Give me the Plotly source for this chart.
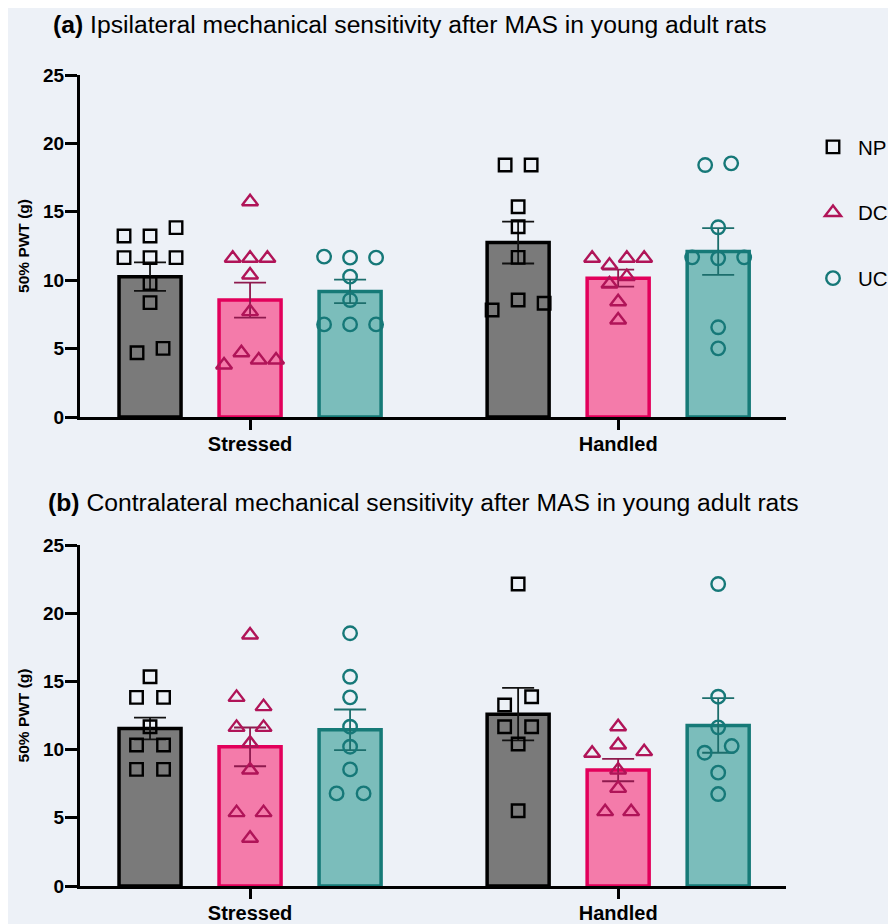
import plotly.graph_objects as go

# ---------------- data ----------------
groups = ["Stressed", "Handled"]
series = ["NP", "DC", "UC"]

# (a) Ipsilateral - individual values (data order = left-to-right within a row)
ipsi_np_stressed = [13.23, 13.23, 13.84, 11.65, 11.65, 11.65, 9.77, 8.36, 4.70, 5.02]
ipsi_dc_stressed = [15.74, 11.60, 11.60, 11.60, 10.38, 7.70, 3.80, 4.70, 4.17, 4.17]
ipsi_uc_stressed = [11.72, 11.65, 11.65, 10.26, 8.55, 6.77, 6.77, 6.77]
ipsi_np_handled = [18.42, 18.42, 15.37, 13.91, 11.67, 7.82, 8.55, 8.31]
ipsi_dc_handled = [11.60, 11.10, 11.60, 11.60, 9.72, 10.26, 8.43, 7.09]
ipsi_uc_handled = [18.42, 18.54, 13.87, 11.67, 11.60, 11.67, 6.56, 5.02]

# (a) bar means and SEM  [Stressed, Handled]
ipsi_np_mean = [10.26, 12.75]
ipsi_np_sem = [1.04, 1.53]
ipsi_dc_mean = [8.55, 10.15]
ipsi_dc_sem = [1.28, 0.62]
ipsi_uc_mean = [9.18, 12.10]
ipsi_uc_sem = [0.86, 1.71]

# (b) Contralateral - individual values
contra_np_stressed = [15.34, 13.83, 13.83, 11.68, 10.34, 10.34, 8.55, 8.55]
contra_dc_stressed = [18.40, 13.83, 13.15, 11.63, 11.63, 10.46, 8.50, 5.38, 5.38, 3.50]
contra_uc_stressed = [18.53, 15.34, 13.83, 11.68, 10.21, 8.55, 6.79, 6.79]
contra_np_handled = [22.14, 13.27, 13.88, 11.68, 11.68, 10.41, 5.52]
contra_dc_handled = [11.68, 9.73, 10.34, 9.85, 8.50, 7.16, 5.45, 5.45]
contra_uc_handled = [22.14, 13.88, 11.63, 9.77, 10.26, 8.31, 6.74]

# (b) bar means and SEM
contra_np_mean = [11.55, 12.60]
contra_np_sem = [0.80, 1.93]
contra_dc_mean = [10.20, 8.50]
contra_dc_sem = [1.42, 0.82]
contra_uc_mean = [11.45, 11.77]
contra_uc_sem = [1.49, 2.00]

y_ticks = [0, 5, 10, 15, 20, 25]

# ---------------- styles ----------------
BG = "#EDF1F7"
FONT = "Liberation Sans, Arial, sans-serif"
bar_fill = {"NP": "#7A7A7A", "DC": "#F47BAA", "UC": "#7BBDBB"}
bar_line = {"NP": "#000000", "DC": "#E2005B", "UC": "#167A77"}
pt_color = {"NP": "#000000", "DC": "#B01458", "UC": "#167878"}
err_color = {"NP": "#111111", "DC": "#8E1A4E", "UC": "#1C6E6C"}
symbols = {"NP": "square-open", "DC": "triangle-up-open", "UC": "circle-open"}
msize = {"NP": 12.5, "DC": 14, "UC": 13.5}

PX_PER_UNIT = 368.0          # pixels per category unit on x
SERIES_STEP = 100 / PX_PER_UNIT
BAR_W = 62 / PX_PER_UNIT
X_RANGE = [-0.462, 1.456]
ROW_THRESH = 0.78            # value units: points closer than this share a row
STEP_MAX = 27 / PX_PER_UNIT
SPAN_MAX = 52 / PX_PER_UNIT


def swarm_offsets(values):
    n = len(values)
    order = sorted(range(n), key=lambda i: -values[i])
    rows = []
    for i in order:
        if rows and abs(values[rows[-1][-1]] - values[i]) < ROW_THRESH:
            rows[-1].append(i)
        else:
            rows.append([i])
    nmax = max(len(r) for r in rows)
    step = STEP_MAX if nmax <= 1 else min(STEP_MAX, SPAN_MAX / (nmax - 1))
    offs = [0.0] * n
    for r in rows:
        r = sorted(r)
        for k, i in enumerate(r):
            offs[i] = (k - (len(r) - 1) / 2) * step
    return offs


panels = [
    {
        "points": {
            "NP": [ipsi_np_stressed, ipsi_np_handled],
            "DC": [ipsi_dc_stressed, ipsi_dc_handled],
            "UC": [ipsi_uc_stressed, ipsi_uc_handled],
        },
        "mean": {"NP": ipsi_np_mean, "DC": ipsi_dc_mean, "UC": ipsi_uc_mean},
        "sem": {"NP": ipsi_np_sem, "DC": ipsi_dc_sem, "UC": ipsi_uc_sem},
    },
    {
        "points": {
            "NP": [contra_np_stressed, contra_np_handled],
            "DC": [contra_dc_stressed, contra_dc_handled],
            "UC": [contra_uc_stressed, contra_uc_handled],
        },
        "mean": {"NP": contra_np_mean, "DC": contra_dc_mean, "UC": contra_uc_mean},
        "sem": {"NP": contra_np_sem, "DC": contra_dc_sem, "UC": contra_uc_sem},
    },
]

fig = go.Figure()

for p_idx, panel in enumerate(panels):
    xa = "x" if p_idx == 0 else "x2"
    ya = "y" if p_idx == 0 else "y2"
    # bars
    for s_idx, s in enumerate(series):
        xs = [g + (s_idx - 1) * SERIES_STEP for g in range(len(groups))]
        fig.add_trace(go.Bar(
            x=xs, y=panel["mean"][s], width=BAR_W,
            marker=dict(color=bar_fill[s], line=dict(color=bar_line[s], width=3.5)),
            error_y=dict(type="data", array=panel["sem"][s], color=err_color[s],
                         thickness=1.8, width=16),
            xaxis=xa, yaxis=ya, showlegend=False, hoverinfo="skip",
        ))
    # points
    for s_idx, s in enumerate(series):
        px_, py_ = [], []
        for g in range(len(groups)):
            vals = panel["points"][s][g]
            offs = swarm_offsets(vals)
            center = g + (s_idx - 1) * SERIES_STEP
            px_ += [center + o for o in offs]
            py_ += vals
        fig.add_trace(go.Scatter(
            x=px_, y=py_, mode="markers", name=s,
            marker=dict(symbol=symbols[s], size=msize[s], color=pt_color[s],
                        line=dict(color=pt_color[s], width=2.4)),
            xaxis=xa, yaxis=ya, showlegend=(p_idx == 0), legendgroup=s,
        ))

# page body adds an 8px offset; figure fills the rest of the 896x924 window
PAGE_OFF = 8
W, H = 896 - PAGE_OFF, 924 - PAGE_OFF
ML, MR, MT, MB = 80 - PAGE_OFF, 110, 75 - PAGE_OFF, 38
plot_w = W - ML - MR
plot_h = H - MT - MB


def py_paper(py):
    return (H - MB - (py - PAGE_OFF)) / plot_h


def px_paper(px):
    return (px - PAGE_OFF - ML) / plot_w


axis_common_x = dict(
    range=X_RANGE, showline=True, linewidth=3, linecolor="black",
    ticks="outside", ticklen=10, tickwidth=3, tickcolor="black",
    tickvals=list(range(len(groups))), ticktext=groups,
    tickfont=dict(family=FONT, size=20, color="black", weight="bold"),
    ticklabelstandoff=-3,
    showgrid=False, zeroline=False, automargin=False, fixedrange=True,
)
axis_common_y = dict(
    range=[0, 25], showline=True, linewidth=3, linecolor="black",
    ticks="outside", ticklen=12, tickwidth=3, tickcolor="black",
    tickvals=y_ticks,
    tickfont=dict(family=FONT, size=19, color="black", weight="bold"),
    ticklabelstandoff=-3,
    showgrid=False, zeroline=False, automargin=False,
    title=dict(text="<b>50% PWT (g)</b>", font=dict(family=FONT, size=15.5, color="black"),
               standoff=10),
)

fig.update_layout(
    width=W, height=H,
    margin=dict(l=ML, r=MR, t=MT, b=MB, autoexpand=False),
    paper_bgcolor=BG, plot_bgcolor=BG,
    font=dict(family=FONT, color="black"),
    barmode="overlay",
    xaxis=dict(domain=[0, 1], anchor="y", **axis_common_x),
    yaxis=dict(domain=[py_paper(417), 1], anchor="x", **axis_common_y),
    xaxis2=dict(domain=[0, 1], anchor="y2", **axis_common_x),
    yaxis2=dict(domain=[0, py_paper(545)], anchor="x2", **axis_common_y),
    legend=dict(
        x=px_paper(808), y=py_paper(127), xanchor="left", yanchor="top",
        bgcolor="rgba(0,0,0,0)", font=dict(family=FONT, size=20.5, color="black"),
        tracegroupgap=36, itemwidth=40, itemclick=False, itemdoubleclick=False,
    ),
    showlegend=True,
    annotations=[
        dict(text="<b>(a)</b> Ipsilateral mechanical sensitivity after MAS in young adult rats",
             x=px_paper(51), y=py_paper(24), xref="paper", yref="paper",
             xanchor="left", yanchor="middle", showarrow=False,
             font=dict(family=FONT, size=24.7, color="black")),
        dict(text="<b>(b)</b> Contralateral mechanical sensitivity after MAS in young adult rats",
             x=px_paper(46), y=py_paper(503), xref="paper", yref="paper",
             xanchor="left", yanchor="middle", showarrow=False,
             font=dict(family=FONT, size=24.7, color="black")),
    ],
)

fig.write_html("out.html")
